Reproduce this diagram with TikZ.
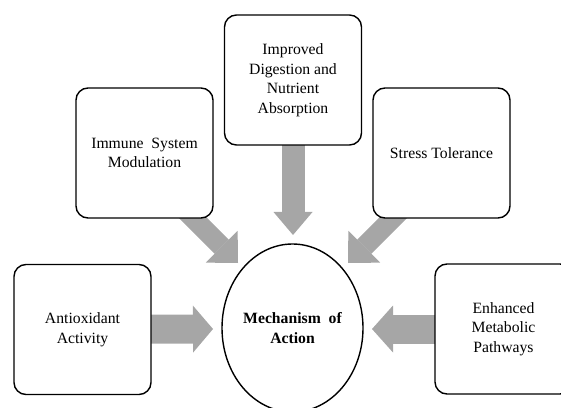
\documentclass[tikz,border=0pt]{standalone}
\usepackage{fontspec}
\setmainfont{Liberation Serif}
\usetikzlibrary{arrows.meta,shapes.geometric,backgrounds}
\definecolor{grisFlecha}{HTML}{A6A6A6}

\begin{document}
\begin{tikzpicture}[x=1pt,y=1pt,
  caja/.style={draw,line width=1.4pt,rounded corners=12pt,fill=white,
    minimum width=137pt,minimum height=130pt,align=center,
    font=\fontsize{15.7}{19.5}\selectfont},
  nucleo/.style={ellipse,draw,line width=1.4pt,fill=white,inner sep=0pt,
    minimum width=141pt,minimum height=168pt,align=center,
    font=\fontsize{15.7}{19.5}\selectfont\bfseries},
  bloque/.style n args={3}{draw=grisFlecha,line width=#1,
    -{Triangle[width=#2,length=#3,line width=0pt]}}]
  \useasboundingbox (0,0) rectangle (561,407);
  \clip (0,0) rectangle (561,407);
  \node[caja] (digest) at (293,327) {Improved\\Digestion and\\Nutrient\\Absorption};
  \node[caja] (immune) at (144.5,254) {Immune\ \ System\\Modulation};
  \node[caja] (stress) at (441.5,254) {Stress Tolerance};
  \node[caja] (antiox) at (82.5,77.5) {Antioxidant\\Activity};
  \node[caja] (metab) at (503.5,78) {Enhanced\\Metabolic\\Pathways};
  \node[nucleo] (mech) at (292.5,79) {Mechanism\ \ of\\Action};
  \coordinate (tipTop) at (293,172);
  \coordinate (tipLeft) at (238,144);
  \coordinate (tipRight) at (348,144);
  \coordinate (tipWest) at (213,78);
  \coordinate (tipEast) at (372,78);
  \begin{scope}[on background layer]
    \draw[bloque={23pt}{39pt}{23pt}] (digest.center) -- (tipTop);
    \draw[bloque={20pt}{45pt}{23pt}] ([shift={(-30,10)}]immune.south east) -- (tipLeft);
    \draw[bloque={20pt}{45pt}{23pt}] ([shift={(30,10)}]stress.south west) -- (tipRight);
    \draw[bloque={29pt}{47pt}{20pt}] (antiox.center) -- (tipWest);
    \draw[bloque={29pt}{47pt}{21pt}] (metab.center) -- (tipEast);
  \end{scope}
\end{tikzpicture}
\end{document}
